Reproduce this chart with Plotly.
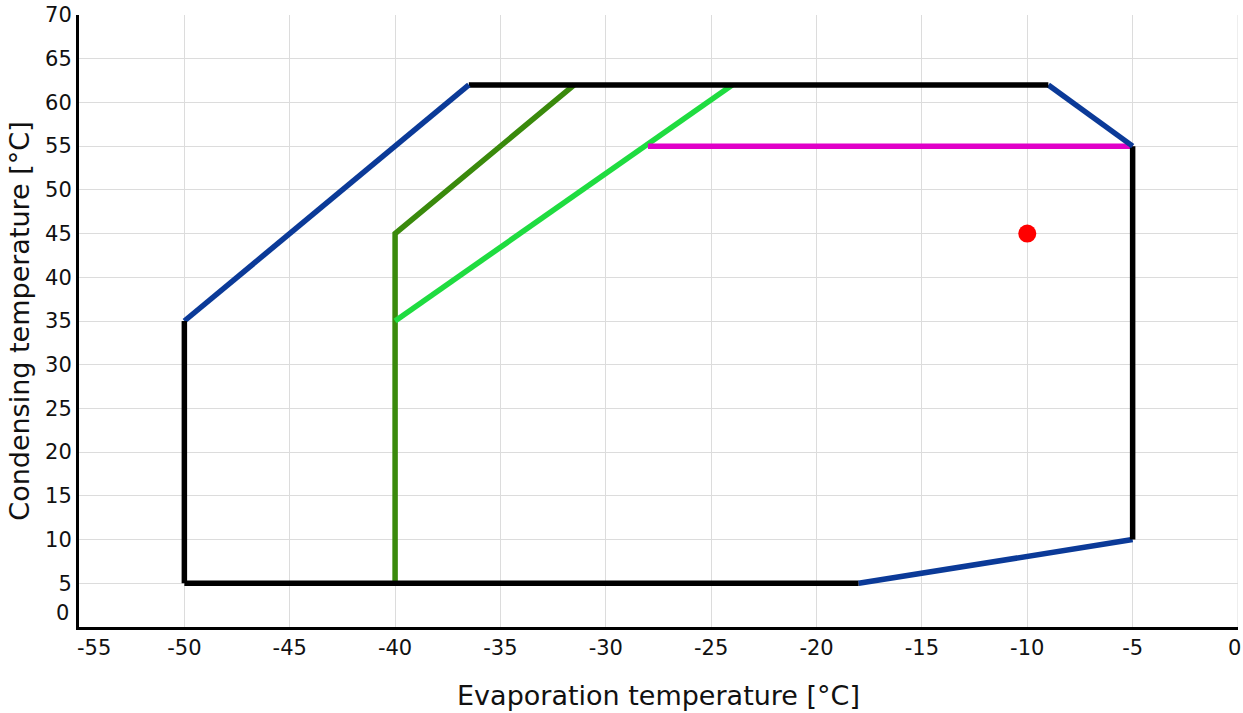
import plotly.graph_objects as go

# Envelope segments (evaporation x, condensing y)
black_bottom_x = [-50, -18]
black_bottom_y = [5, 5]
blue_bottom_x = [-18, -5]
blue_bottom_y = [5, 10]
black_right_x = [-5, -5]
black_right_y = [10, 55]
blue_topright_x = [-5, -9]
blue_topright_y = [55, 62]
black_top_x = [-9, -36.5]
black_top_y = [62, 62]
blue_topleft_x = [-36.5, -50]
blue_topleft_y = [62, 35]
black_left_x = [-50, -50]
black_left_y = [35, 5]

dkgreen_x = [-40, -40, -31.5]
dkgreen_y = [5, 45, 62]
ltgreen_x = [-40, -24]
ltgreen_y = [35, 62]
magenta_x = [-28, -5]
magenta_y = [55, 55]

point_x = [-10]
point_y = [45]

x_ticks = [-50, -45, -40, -35, -30, -25, -20, -15, -10, -5, 0]
y_ticks = [5, 10, 15, 20, 25, 30, 35, 40, 45, 50, 55, 60, 65, 70]

BLACK = "#000000"
BLUE = "#0b3a98"
DKGREEN = "#3a8a0c"
LTGREEN = "#1fdc40"
MAGENTA = "#e000c8"
RED = "#ff0000"
W = 5.5

fig = go.Figure()

def seg(x, y, c):
    fig.add_trace(go.Scatter(x=x, y=y, mode="lines", line=dict(color=c, width=W),
                             showlegend=False, hoverinfo="skip"))

seg(dkgreen_x, dkgreen_y, DKGREEN)
seg(ltgreen_x, ltgreen_y, LTGREEN)
seg(magenta_x, magenta_y, MAGENTA)
seg(black_bottom_x, black_bottom_y, BLACK)
seg(blue_bottom_x, blue_bottom_y, BLUE)
seg(black_right_x, black_right_y, BLACK)
seg(blue_topright_x, blue_topright_y, BLUE)
seg(black_top_x, black_top_y, BLACK)
seg(blue_topleft_x, blue_topleft_y, BLUE)
seg(black_left_x, black_left_y, BLACK)

fig.add_trace(go.Scatter(x=point_x, y=point_y, mode="markers",
                         marker=dict(color=RED, size=18), showlegend=False))

font = dict(family="DejaVu Sans", size=21, color="#111111")
tfont = dict(family="DejaVu Sans", size=27, color="#111111")

fig.update_layout(
    width=1243, height=713,
    margin=dict(l=79, r=5, t=15, b=86, autoexpand=False),
    plot_bgcolor="white", paper_bgcolor="white",
    font=font,
    xaxis=dict(range=[-55, 0], tickvals=x_ticks[:-1], ticktext=[str(v) for v in x_ticks[:-1]],
               showgrid=True, gridcolor="#dcdcdc", gridwidth=1,
               showline=True, linecolor="black", linewidth=3,
               zeroline=False, ticks="", tickfont=font, automargin=False,
               ticklabeloverflow="allow",
               title=dict(text="Evaporation temperature [°C]", font=tfont, standoff=27)),
    yaxis=dict(range=[0, 70], tickvals=y_ticks, ticktext=[str(v) for v in y_ticks],
               showgrid=True, gridcolor="#dcdcdc", gridwidth=1,
               showline=True, linecolor="black", linewidth=3,
               zeroline=False, ticks="", tickfont=font, automargin=False,
               ticklabeloverflow="allow",
               title=dict(text="Condensing temperature [°C]", font=tfont, standoff=8)),
)

# gridline at x = 0 (right edge)
fig.add_shape(type="line", xref="x", yref="paper", x0=0, x1=0, y0=0, y1=1,
              line=dict(color="#dcdcdc", width=1), layer="below")

# edge tick labels nudged like the reference
fig.add_annotation(x=0, y=0, xref="paper", yref="paper", text="-55", showarrow=False,
                   xanchor="center", yanchor="top", xshift=15, yshift=-7, font=font)
fig.add_annotation(x=1, y=0, xref="paper", yref="paper", text="0", showarrow=False,
                   xanchor="right", yanchor="top", xshift=5, yshift=-7, font=font)
fig.add_annotation(x=0, y=0, xref="paper", yref="paper", text="0", showarrow=False,
                   xanchor="right", yanchor="middle", xshift=-8, yshift=14, font=font)

fig.write_html("out.html", config={"displayModeBar": False},
               post_script="document.body.style.margin='0';")
